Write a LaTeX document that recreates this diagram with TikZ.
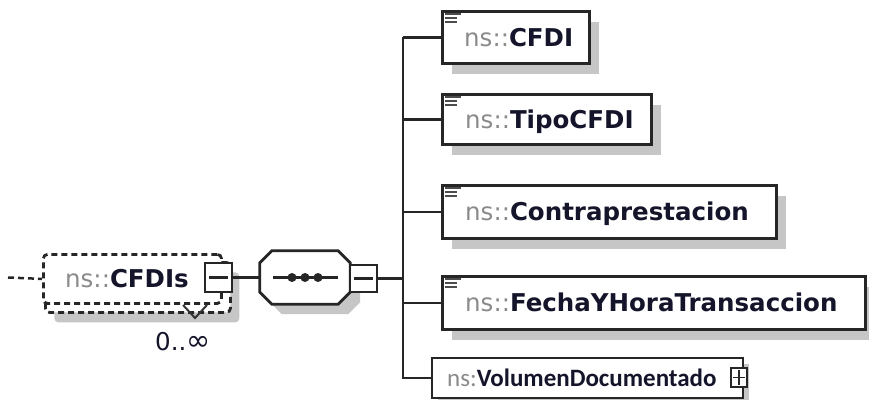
\documentclass[tikz,border=0pt]{standalone}
\usepackage{fontspec}
\setmainfont{DejaVu Sans}
\newfontfamily\volfont{Carlito}
\usetikzlibrary{shadows,calc}
\definecolor{nsgray}{HTML}{8A8A8A}
\definecolor{nmdark}{HTML}{14142A}
\definecolor{shgray}{HTML}{C6C6C6}
\newcommand{\nsname}[1]{{\color{nsgray}ns::}{\bfseries\color{nmdark}#1}}
\newcommand{\nsvol}[1]{{\color{nsgray}ns:}{\bfseries\color{nmdark}#1}}

\tikzset{
  elem/.style={draw=black!85, line width=2.8pt, fill=white, anchor=north west, inner sep=0pt},
  shd/.style={drop shadow={shadow xshift=10pt, shadow yshift=-11pt, fill=shgray, opacity=1}},
  optbox/.style={draw=black!85, line width=2.8pt, dash pattern=on 6pt off 4pt, rounded corners=4pt, fill=white, anchor=north west, inner sep=0pt},
  tgl/.style={draw=black!85, line width=2.5pt, fill=white, inner sep=0pt},
  conn/.style={draw=black!85, line width=2.5pt},
  lbl/.style={anchor=base west, inner sep=0pt, font=\fontsize{24.5}{26}\selectfont},
  bars/.style={draw=black!70, line width=2.2pt},
}

\begin{document}
\begin{tikzpicture}[x=1pt,y=-1pt]
  \useasboundingbox (0,0) rectangle (869,399);

  % repeated element CFDIs
  \node[optbox, drop shadow={shadow xshift=9pt, shadow yshift=-10pt, fill=shgray, opacity=1},
        minimum width=185pt, minimum height=50pt] (cfdis-bk) at (44,261) {};
  \node[optbox, minimum width=178pt, minimum height=49pt] (cfdis) at (42,253) {};
  \node[lbl] (cfdis-t) at ([xshift=23pt,yshift=-9pt]cfdis.west) {\nsname{CFDIs}};
  \node[tgl, minimum width=27pt, minimum height=29pt] (cfdism) at (218.5,277.5) {};
  \draw[bars, black!85] ([xshift=5pt]cfdism.west) -- ([xshift=-5pt]cfdism.east);
  \draw[black!80, line width=2pt] (183,305) -- (195,318) -- (207,305);
  \node[anchor=base west, inner sep=0pt, font=\fontsize{24.5}{26}\selectfont, text=nmdark] (mult) at (155,350) {0..{\fontsize{29}{29}\selectfont∞}};

  % sequence
  \node[minimum width=90pt, minimum height=53pt, inner sep=0pt] (seq) at (305,277.5) {};
  \draw[conn, line width=2.8pt, fill=white, drop shadow={shadow xshift=10pt, shadow yshift=-10pt, fill=shgray, opacity=1}]
    ([xshift=12pt]seq.north west) -- ([xshift=-12pt]seq.north east) -- ([yshift=-12pt]seq.north east)
    -- ([yshift=12pt]seq.south east) -- ([xshift=-12pt]seq.south east) -- ([xshift=12pt]seq.south west)
    -- ([yshift=12pt]seq.south west) -- ([yshift=-12pt]seq.north west) -- cycle;
  \draw[conn] ([xshift=13pt]seq.west) -- ([xshift=-12pt]seq.east);
  \foreach \dx in {-13,0,13}
    \fill[black!85] ([xshift=\dx pt]seq.center) circle (4.5pt);
  \node[tgl, minimum width=27pt, minimum height=27pt] (seqm) at (363.5,278.5) {};
  \draw[bars, black!85] ([xshift=5pt]seqm.west) -- ([xshift=-5pt]seqm.east);

  % child elements
  \node[elem, shd, minimum width=147pt, minimum height=52pt] (cfdi) at (441,10) {};
  \node[elem, shd, minimum width=209pt, minimum height=50pt] (tipo) at (441,93) {};
  \node[elem, shd, minimum width=334pt, minimum height=53pt] (contra) at (441,184) {};
  \node[elem, shd, minimum width=423pt, minimum height=53pt] (fecha) at (441,275) {};
  \node[elem, line width=2.2pt, drop shadow={shadow xshift=6pt, shadow yshift=-6pt, fill=shgray, opacity=1},
        minimum width=311pt, minimum height=40pt] (vol) at (431,357) {};

  \node[lbl] (cfdi-t) at ([xshift=23pt,yshift=-9pt]cfdi.west) {\nsname{CFDI}};
  \node[lbl] (tipo-t) at ([xshift=24pt,yshift=-9pt]tipo.west) {\nsname{TipoCFDI}};
  \node[lbl] (contra-t) at ([xshift=24pt,yshift=-9pt]contra.west) {\nsname{Contraprestacion}};
  \node[lbl] (fecha-t) at ([xshift=24pt,yshift=-9pt]fecha.west) {\nsname{FechaYHoraTransaccion}};
  \node[lbl, font=\volfont\fontsize{25}{26}\selectfont] (vol-t) at ([xshift=16pt,yshift=-8pt]vol.west) {\nsvol{VolumenDocumentado}};

  \foreach \e in {cfdi,tipo,contra,fecha} {
    \draw[bars] ([shift={(4pt,-4pt)}]\e.north west) -- ++(16pt,0);
    \draw[bars] ([shift={(4pt,-8pt)}]\e.north west) -- ++(12pt,0);
    \draw[bars] ([shift={(4pt,-12pt)}]\e.north west) -- ++(12pt,0);
  }

  \node[tgl, line width=2pt, minimum width=16pt, minimum height=19pt] (volp) at (739,377.5) {};
  \draw[bars, black!85, line width=1.8pt] ([xshift=3pt]volp.west) -- ([xshift=-3pt]volp.east);
  \draw[bars, black!85, line width=1.8pt] ([yshift=-3pt]volp.north) -- ([yshift=3pt]volp.south);

  % connectors
  \coordinate (src) at (8,277.5);
  \coordinate (trunk) at (403,278.5);
  \draw[conn, dash pattern=on 6pt off 4pt] (src) -- (cfdis.west);
  \draw[conn] (cfdism.east) -- (seq.west);
  \draw[conn] (seqm.east) -- (trunk);
  \draw[conn, line width=2pt] (trunk |- fecha.west) |- (vol.west);
  \draw[conn] (trunk |- cfdi.west) -- ($(trunk |- fecha.west)+(0,43)$);
  \foreach \e in {cfdi,tipo,contra,fecha}
    \draw[conn] (trunk |- \e.west) -- (\e.west);
\end{tikzpicture}
\end{document}
